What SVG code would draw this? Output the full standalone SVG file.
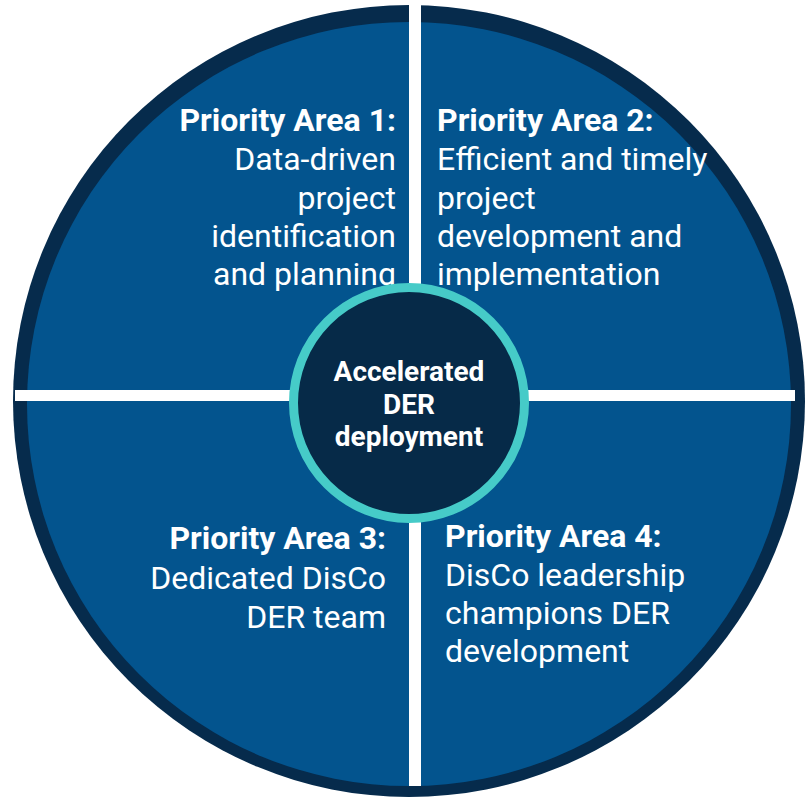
<svg xmlns="http://www.w3.org/2000/svg" width="806" height="799" viewBox="0 0 806 799">
  <style>
    .head { font-family: Roboto, "Liberation Sans", sans-serif; font-weight: 700; font-size: 32px; fill: #ffffff; }
    .body { font-family: Roboto, "Liberation Sans", sans-serif; font-weight: 400; font-size: 32px; fill: #ffffff; }
    .core { font-family: Roboto, "Liberation Sans", sans-serif; font-weight: 700; font-size: 28px; fill: #ffffff; }
    .end { text-anchor: end; }
    .mid { text-anchor: middle; }
  </style>

  <rect width="806" height="799" fill="#ffffff"/>

  <!-- outer rim and blue disc -->
  <g id="wheel">
    <circle cx="409" cy="401" r="396" fill="#062b4c"/>
    <circle cx="409" cy="404" r="382" fill="#03548e"/>
  </g>

  <!-- white dividers between the four areas -->
  <g id="dividers" fill="#ffffff">
    <rect x="409" y="0" width="12" height="786"/>
    <rect x="15" y="390" width="780" height="11"/>
  </g>

  <g id="area1">
    <text class="head end" x="396" y="131">Priority Area 1:</text>
    <text class="body end" x="396" y="170">Data-driven</text>
    <text class="body end" x="396" y="209">project</text>
    <text class="body end" x="396" y="247">identification</text>
    <text class="body end" x="396" y="285">and planning</text>
  </g>

  <g id="area2">
    <text class="head" x="437" y="131">Priority Area 2:</text>
    <text class="body" x="437" y="170">Efficient and timely</text>
    <text class="body" x="437" y="209">project</text>
    <text class="body" x="437" y="247">development and</text>
    <text class="body" x="437" y="285">implementation</text>
  </g>

  <g id="area3">
    <text class="head end" x="386" y="549">Priority Area 3:</text>
    <text class="body end" x="386" y="589">Dedicated DisCo</text>
    <text class="body end" x="386" y="628">DER team</text>
  </g>

  <g id="area4">
    <text class="head" x="445" y="547">Priority Area 4:</text>
    <text class="body" x="445" y="586">DisCo leadership</text>
    <text class="body" x="445" y="624">champions DER</text>
    <text class="body" x="445" y="662">development</text>
  </g>

  <!-- central hub -->
  <g id="hub">
    <circle cx="409" cy="403" r="115.5" fill="#062a48" stroke="#46cbc8" stroke-width="9"/>
    <text class="core mid" x="409" y="381">Accelerated</text>
    <text class="core mid" x="409" y="414">DER</text>
    <text class="core mid" x="409" y="446">deployment</text>
  </g>
</svg>
